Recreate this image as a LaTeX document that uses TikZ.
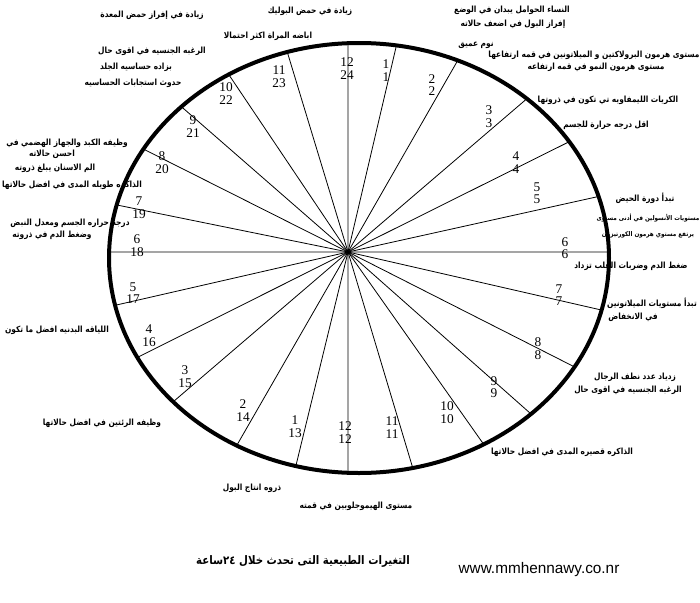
\documentclass[tikz,border=0pt]{standalone}
\usepackage{fontspec}
\newfontfamily\arabicfont[Script=Arabic,FakeStretch=0.87]{DejaVu Sans}
\newfontfamily\numfont{Liberation Serif}
\newfontfamily\webfont{Liberation Sans}
\TeXXeTstate=1
\usetikzlibrary{intersections}
\newcommand{\rtl}[1]{\beginR #1\endR}

\begin{document}
\begin{tikzpicture}[x=0.75pt,y=-0.75pt,
  hour/.style={font=\numfont\fontsize{10}{9.5}\selectfont,align=center,inner sep=0pt},
  note/.style={font=\arabicfont\bfseries\fontsize{6.4}{7}\selectfont,inner sep=0pt},
  small note/.style={note,font=\arabicfont\bfseries\fontsize{4.9}{6}\selectfont},
  caption/.style={font=\arabicfont\bfseries\fontsize{8.8}{9}\selectfont,inner sep=0pt},
  rim/.style={line width=3pt},
  spoke/.style={line width=0.6pt}]
\useasboundingbox (0,0) rectangle (700,603);

%============================ clock face ============================
\coordinate (c) at (348,252);
\draw[rim,name path=rim] (359,258) ellipse [x radius=187.5pt,y radius=161.25pt];

% --- 24 spokes from the centre to the rim ---
\foreach \a in {90,76.8,60.2,40.6,26.5,12.5,0,-12.9,-26.9,-41.5,-54.8,-73.3,
                -90,-103.7,-119.9,-139.4,-153.4,-167.1,180,168.5,153.3,138.9,123.9,106.9}{
  \path[name path=ray] (c) -- ++({-\a}:420);
  \draw[spoke,name intersections={of=rim and ray}] (c) -- (intersection-1);
}

% --- hour numbers (upper: 12h clock, lower: 24h clock) ---
\foreach \up/\lo/\x/\y [count=\i] in {12/24/347/68.3, 1/1/386/70.3, 2/2/432/85,
    3/3/489/116.7, 4/4/516/162.7, 5/5/537/193.3, 6/6/565/248.3, 7/7/559/295,
    8/8/538/348.3, 9/9/494/387.3, 10/10/447/412.7, 11/11/392/427.7,
    12/12/345/432.8, 1/13/295/426.7, 2/14/243/410.7, 3/15/185/376.7,
    4/16/149/336, 5/17/133/293, 6/18/137/245.5, 7/19/139/208,
    8/20/162/162.3, 9/21/193/126.7, 10/22/226/93.3, 11/23/279/76.7}
  \node[hour] (hr\i) at (\x,\y) {\up\\\lo};

%============================ notes round the face ============================
\foreach \x/\y/\t [count=\i] in {
    152/15/زيادة في إفراز حمض المعدة,
    310/11/زيادة في حمض البوليك,
    268/36/اباضه المراة اكثر احتمالا,
    152/51/الرغبه الجنسيه في اقوى حال,
    136/67/بزاده حساسيه الجلد,
    133/83/حدوث استجابات الحساسيه,
    512/10/النساء الحوامل يبدان في الوضع,
    513/24/إفراز البول في اضعف حالاته,
    476/45/نوم عميق,
    594/55/مستوى هرمون البرولاكتين و الميلاتونين في قمه ارتفاعها,
    596/67/مستوى هرمون النمو في قمه ارتفاعه,
    608/100/الكريات الليمفاويه تي تكون في ذروتها,
    606/125/اقل درجه حرارة للجسم,
    645/198/تبدأ دورة الحيض,
    631/266/ضغط الدم وضربات القلب تزداد,
    652/303/تبدأ مستويات الميلاتونين,
    633/317/في الانخفاض,
    635/377/زدياد عدد نطف الرجال,
    628/390/الرغبه الجنسيه في اقوى حال,
    562/452/الذاكره قصيره المدى في افضل حالاتها,
    356/506/مستوى الهيموجلوبين في قمته,
    252/488/ذروه انتاج البول,
    102/423/وظيفه الرئتين في افضل حالاتها,
    57/330/اللياقه البدنيه افضل ما تكون,
    70/223/درجة حراره الجسم ومعدل النبض,
    52/235/وضغط الدم في ذروته,
    72/185/الذاكره طويله المدى في افضل حالاتها,
    55/168/الم الاسنان يبلغ ذروته,
    52/154/احسن حالاته,
    67/143/وظيفه الكبد والجهاز الهضمي في}
  \node[note] (note\i) at (\x,\y) {\rtl{\t}};

% the two squeezed lines under the menstrual note
\node[small note] (insulin) at (648,218) {\rtl{مستويات الأنسولين في أدنى مستوى}};
\node[small note] (cortisol) at (648,235) {\rtl{يرتفع مستوي هرمون الكورتيزون}};

% caption and address
\node[caption] (title) at (303,561)
  {\rtl{التغيرات الطبيعية التى تحدث خلال \beginL٢٤\endL{}ساعة}};
\node[font=\webfont\fontsize{11.5}{12}\selectfont,inner sep=0pt] (web) at (539,570)
  {www.mmhennawy.co.nr};

\end{tikzpicture}
\end{document}
